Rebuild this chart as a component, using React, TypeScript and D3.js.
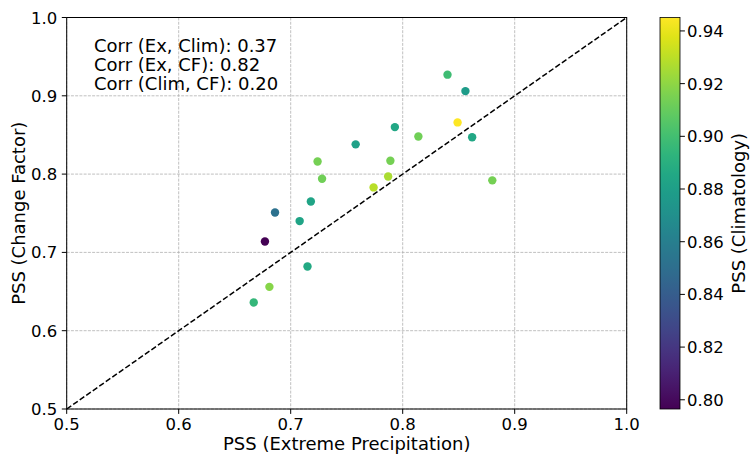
import React from "react";
import * as d3 from "d3";

const pssExtreme = [0.840, 0.856, 0.849, 0.793, 0.814, 0.862, 0.758, 0.724, 0.789, 0.728, 0.787, 0.774, 0.880, 0.718, 0.686, 0.708, 0.677, 0.715, 0.681, 0.667];
const pssChangeFactor = [0.927, 0.906, 0.866, 0.860, 0.848, 0.847, 0.838, 0.816, 0.817, 0.794, 0.797, 0.783, 0.792, 0.765, 0.751, 0.740, 0.714, 0.682, 0.656, 0.636];
const pssClimatology = [0.899, 0.878, 0.9451, 0.885, 0.913, 0.885, 0.881, 0.914, 0.914, 0.913, 0.926, 0.929, 0.914, 0.883, 0.852, 0.883, 0.7965, 0.886, 0.918, 0.895];
const axisTicks = [0.5, 0.6, 0.7, 0.8, 0.9, 1.0];
const colorTicks = [0.80, 0.82, 0.84, 0.86, 0.88, 0.90, 0.92, 0.94];
const corrLines = ["Corr (Ex, Clim): 0.37", "Corr (Ex, CF): 0.82", "Corr (Clim, CF): 0.20"];

const W = 751, H = 457;
const L = 66.7, R = 626.7, T = 17.5, B = 409;
const CBX = 660, CBW = 20;
const font = "DejaVu Sans, sans-serif";
const TICK_FS = 16.5;
const LABEL_FS = 18;

export default function App() {
  const x = d3.scaleLinear().domain([0.5, 1.0]).range([L, R]);
  const y = d3.scaleLinear().domain([0.5, 1.0]).range([B, T]);
  const cMin = d3.min(pssClimatology)!, cMax = d3.max(pssClimatology)!;
  const color = d3.scaleSequential(d3.interpolateViridis).domain([cMin, cMax]);
  const cy = d3.scaleLinear().domain([cMin, cMax]).range([B, T]);
  const stops = d3.range(0, 1.0001, 0.05);

  return (
    <svg width={W} height={H} style={{ position: "absolute", left: 0, top: 0, background: "#fff" }} fontFamily={font}>
      <defs>
        <linearGradient id="vir" x1="0" y1="1" x2="0" y2="0">
          {stops.map((s, i) => (
            <stop key={i} offset={s} stopColor={d3.interpolateViridis(s)} />
          ))}
        </linearGradient>
      </defs>
      {/* grid */}
      {axisTicks.map((t, i) => (
        <g key={"g" + i}>
          <line x1={x(t)} x2={x(t)} y1={T} y2={B} stroke="#b0b0b0" strokeWidth={0.8} strokeDasharray="2.96,1.28" />
          <line x1={L} x2={R} y1={y(t)} y2={y(t)} stroke="#b0b0b0" strokeWidth={0.8} strokeDasharray="2.96,1.28" />
        </g>
      ))}
      {/* diagonal */}
      <line x1={x(0.5)} y1={y(0.5)} x2={x(1.0)} y2={y(1.0)} stroke="#000" strokeWidth={1.5} strokeDasharray="5.55,2.4" />
      {/* points */}
      {pssExtreme.map((v, i) => (
        <circle key={"p" + i} cx={x(v)} cy={y(pssChangeFactor[i])} r={4.2} fill={color(pssClimatology[i])} />
      ))}
      {/* frame */}
      <rect x={L} y={T} width={R - L} height={B - T} fill="none" stroke="#000" strokeWidth={1} />
      {/* ticks */}
      {axisTicks.map((t, i) => (
        <g key={"t" + i} fontSize={TICK_FS} fill="#000">
          <line x1={x(t)} x2={x(t)} y1={B} y2={B + 4.9} stroke="#000" strokeWidth={1} />
          <text x={x(t)} y={B + 20.5} textAnchor="middle">{t.toFixed(1)}</text>
          <line x1={L - 4.9} x2={L} y1={y(t)} y2={y(t)} stroke="#000" strokeWidth={1} />
          <text x={L - 9.5} y={y(t) + 6} textAnchor="end">{t.toFixed(1)}</text>
        </g>
      ))}
      <text x={(L + R) / 2} y={449.5} textAnchor="middle" fontSize={LABEL_FS}>PSS (Extreme Precipitation)</text>
      <text transform={`translate(24.5,${(T + B) / 2}) rotate(-90)`} textAnchor="middle" fontSize={LABEL_FS}>PSS (Change Factor)</text>
      {/* corr text */}
      {corrLines.map((s, i) => (
        <text key={"c" + i} x={94} y={51.7 + i * 19.2} fontSize={LABEL_FS}>{s}</text>
      ))}
      {/* colorbar */}
      <rect x={CBX} y={T} width={CBW} height={B - T} fill="url(#vir)" />
      <rect x={CBX} y={T} width={CBW} height={B - T} fill="none" stroke="#000" strokeWidth={0.8} />
      {colorTicks.map((t, i) => (
        <g key={"ct" + i}>
          <line x1={CBX + CBW} x2={CBX + CBW + 4.9} y1={cy(t)} y2={cy(t)} stroke="#000" strokeWidth={1} />
          <text x={CBX + CBW + 7} y={cy(t) + 6} fontSize={TICK_FS}>{t.toFixed(2)}</text>
        </g>
      ))}
      <text transform={`translate(745,${(T + B) / 2}) rotate(-90)`} textAnchor="middle" fontSize={LABEL_FS}>PSS (Climatology)</text>
    </svg>
  );
}
